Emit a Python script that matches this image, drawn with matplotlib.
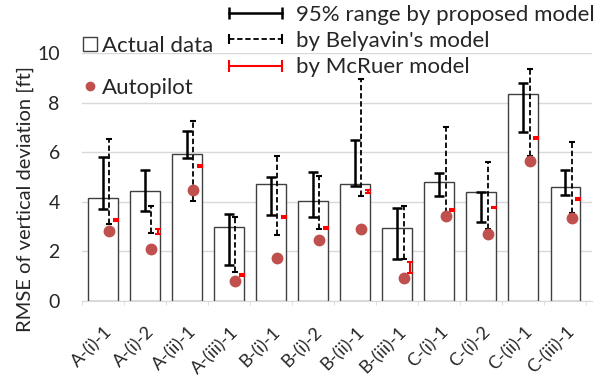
import numpy as np
import matplotlib
matplotlib.use("Agg")
import matplotlib.pyplot as plt
import matplotlib.transforms as mtransforms
from matplotlib.lines import Line2D

plt.rcParams['font.family'] = ['Lato', 'DejaVu Sans']

cats = ['A-(i)-1', 'A-(i)-2', 'A-(ii)-1', 'A-(iii)-1', 'B-(i)-1', 'B-(i)-2',
        'B-(ii)-1', 'B-(iii)-1', 'C-(i)-1', 'C-(i)-2', 'C-(ii)-1', 'C-(iii)-1']
actual = [4.15, 4.44, 5.93, 2.98, 4.72, 4.01, 4.72, 2.95, 4.78, 4.38, 8.37, 4.58]
prop_lo = [3.70, 3.63, 5.76, 1.44, 3.46, 3.40, 4.65, 1.67, 4.24, 3.16, 6.82, 4.28]
prop_hi = [5.80, 5.30, 6.86, 3.52, 4.99, 5.22, 6.48, 3.73, 5.15, 4.40, 8.81, 5.28]
bely_lo = [3.09, 2.75, 4.01, 1.17, 2.64, 2.89, 4.24, 1.67, 3.56, 2.89, 5.83, 3.56]
bely_hi = [6.54, 3.83, 7.25, 3.36, 5.84, 5.03, 8.98, 3.81, 7.02, 5.62, 9.36, 6.43]
mcr_lo = [3.20, 2.70, 5.40, 0.98, 3.34, 2.88, 4.37, 1.10, 3.63, 3.73, 6.52, 4.06]
mcr_hi = [3.30, 2.88, 5.50, 1.08, 3.44, 2.96, 4.47, 1.56, 3.71, 3.80, 6.62, 4.16]
autopilot = [2.82, 2.10, 4.48, 0.78, 1.74, 2.44, 2.91, 0.92, 3.43, 2.68, 5.66, 3.32]

x = np.arange(len(cats))


def mid_err(lo, hi):
    lo, hi = np.array(lo), np.array(hi)
    return (lo + hi) / 2, (hi - lo) / 2


fig = plt.figure(figsize=(6.04, 3.83), dpi=100)
ax = fig.add_axes([0.1358, 0.2154, 0.844, 0.645])

ax.bar(x, actual, width=0.705, color="white", edgecolor="#404040", linewidth=1.0, zorder=2)

# proposed model 95% range (solid), Belyavin (dashed), McRuer (red)
m, e = mid_err(prop_lo, prop_hi)
ax.errorbar(x, m, yerr=e, fmt="none", ecolor="black", elinewidth=1.8,
            capsize=3.5, capthick=1.8, zorder=3)

m, e = mid_err(bely_lo, bely_hi)
eb = ax.errorbar(x + 0.15, m, yerr=e, fmt="none", ecolor="black", elinewidth=1.3,
                 capsize=2.5, capthick=1.5, zorder=3)
eb[2][0].set_linestyle((0, (3, 1.5)))

m, e = mid_err(mcr_lo, mcr_hi)
ax.errorbar(x + 0.3, m, yerr=e, fmt="none", ecolor="red", elinewidth=1.5,
            capsize=2.2, capthick=1.5, zorder=3)

ax.plot(x + 0.15, autopilot, "o", color="#C0504D", markersize=7.5, zorder=4)

ax.set_xlim(-0.35, 11.63)
ax.set_ylim(0, 10)
ax.set_yticks([0, 2, 4, 6, 8, 10])
ax.yaxis.grid(True, color="#D9D9D9", linewidth=1)
ax.set_axisbelow(True)
for s in ["top", "right", "left"]:
    ax.spines[s].set_visible(False)
ax.spines["bottom"].set_color("#D9D9D9")
ax.tick_params(axis="y", length=0, pad=16, labelsize=14, colors="#262626")

ax.set_xticks(x)
ax.set_xticklabels(cats, rotation=45, ha="right", va="center",
                   rotation_mode="anchor", fontsize=13, color="#262626")
ax.tick_params(axis="x", length=0, pad=21)
shift = mtransforms.ScaledTranslation(7 / 100, 0, fig.dpi_scale_trans)
for lab in ax.get_xticklabels():
    lab.set_transform(lab.get_transform() + shift)
ax.set_xticks(np.arange(-0.5, 12, 1), minor=True)
ax.tick_params(axis="x", which="minor", length=3, color="#D9D9D9")

ax.set_ylabel("RMSE of vertical deviation [ft]", fontsize=14.5, color="#262626")
ax.yaxis.set_label_coords(-0.094, 0.41)

h1 = [Line2D([], [], marker="s", linestyle="none", markerfacecolor="white",
             markeredgecolor="#404040", markersize=10),
      Line2D([], [], marker="o", linestyle="none", color="#C0504D", markersize=6)]
leg1 = fig.legend(h1, ["Actual data", "Autopilot"], loc="upper left",
                  bbox_to_anchor=(81 / 604, 1 - 36 / 383), frameon=False, fontsize=16,
                  handlelength=0.8, handletextpad=0.15, labelspacing=1.0,
                  borderpad=0, borderaxespad=0, labelcolor="#262626")

h2 = [Line2D([0, 1], [0, 0], color="black", lw=1.8, marker="|", markersize=9, mew=1.8),
      Line2D([0, 1], [0, 0], color="black", lw=1.3, ls=(0, (3, 1.5)), marker="|",
             markersize=7, mew=1.5),
      Line2D([0, 1], [0, 0], color="red", lw=1.5, marker="|", markersize=9, mew=1.5)]
leg2 = fig.legend(h2, ["95% range by proposed model", "by Belyavin's model", "by McRuer model"],
                  loc="upper left", bbox_to_anchor=(222 / 604, 1 - 5 / 383), frameon=False,
                  fontsize=16, numpoints=2, handlelength=3.0, handletextpad=0.35,
                  labelspacing=0.28, borderpad=0, borderaxespad=0, labelcolor="#262626")

fig.savefig("out.png", dpi=100)
